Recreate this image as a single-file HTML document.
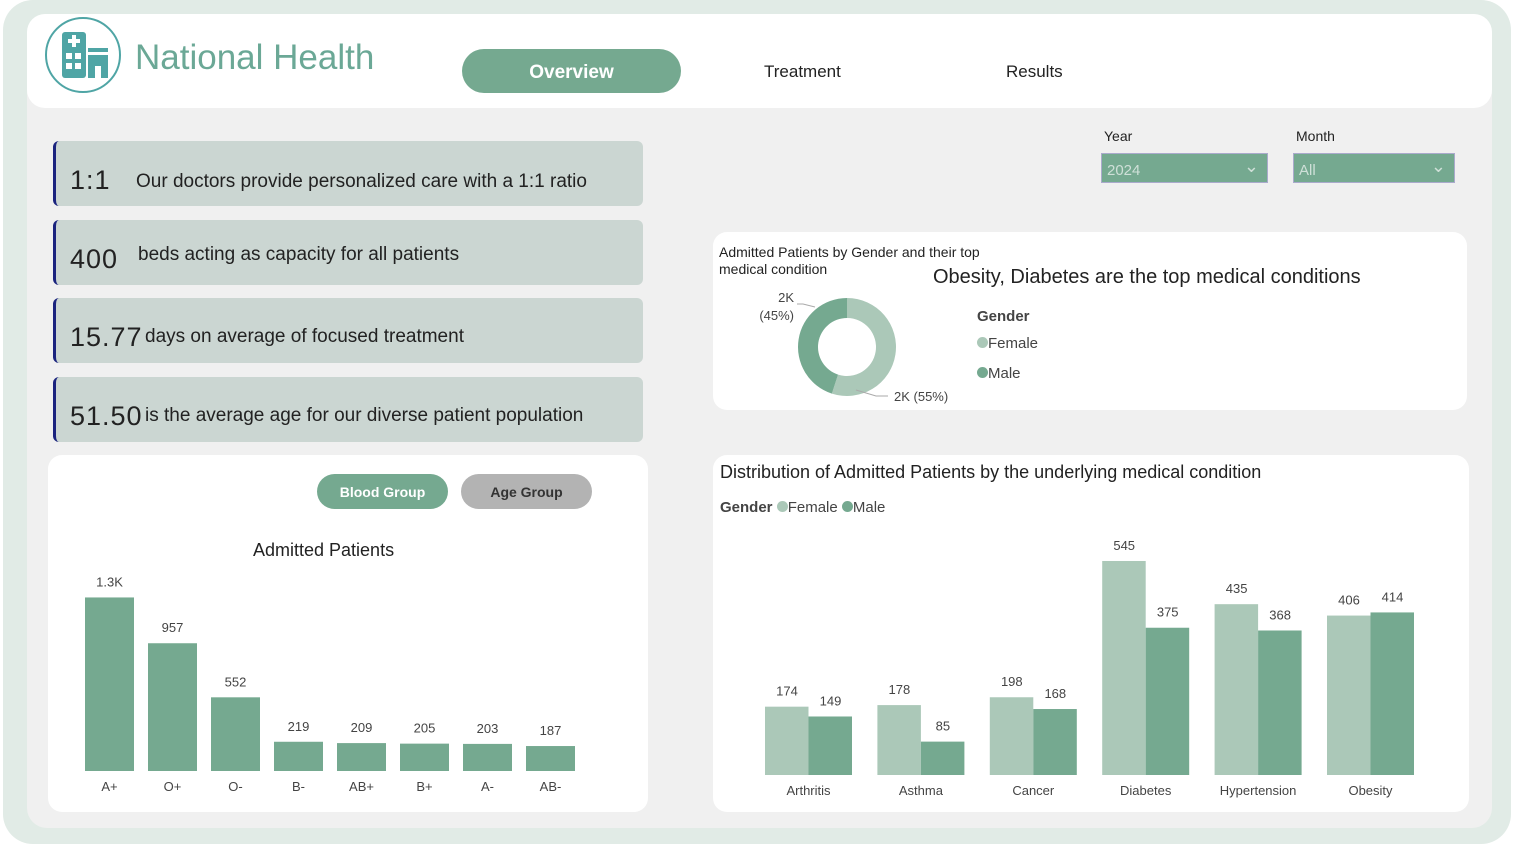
<!DOCTYPE html>
<html><head><meta charset="utf-8">
<style>
*{box-sizing:border-box;margin:0;padding:0}
body{width:1516px;height:844px;background:#fff;font-family:"Liberation Sans",sans-serif;position:relative;overflow:hidden}
.abs{position:absolute}
#outer{left:3px;top:0;width:1508px;height:844px;background:#e1ebe6;border-radius:30px}
#inner{left:27px;top:14px;width:1465px;height:814px;background:#f0f0f0;border-radius:20px}
#header{left:27px;top:14px;width:1465px;height:94px;background:#fff;border-radius:18px}
.card{left:53px;width:590px;height:65px;background:#cbd6d2;border-left:3px solid #1a237e;border-radius:6px;color:#222;font-size:19px}
.card .n{position:absolute;left:14px;font-size:27px;letter-spacing:1px}
.card .t{position:absolute;font-size:19px}
.panel{background:#fff;border-radius:14px}
.nav{font-size:17px;color:#222}
.lbl{font-size:13px;fill:#444;font-family:"Liberation Sans",sans-serif}
</style></head><body>
<div id="outer" class="abs"></div>
<div id="inner" class="abs"></div>
<div id="header" class="abs"></div>
<svg class="abs" style="left:44px;top:16px" width="80" height="80">
<circle cx="39" cy="39" r="37" fill="none" stroke="#4fa5a5" stroke-width="2"/>
<rect x="18" y="16" width="24" height="46" rx="3" fill="#4fa5a5"/>
<rect x="28" y="19" width="4" height="12" fill="#fff"/><rect x="24" y="23" width="12" height="4" fill="#fff"/>
<rect x="22" y="37" width="6" height="6" fill="#fff"/><rect x="31" y="37" width="6" height="6" fill="#fff"/>
<rect x="22" y="47" width="6" height="6" fill="#fff"/><rect x="31" y="47" width="6" height="6" fill="#fff"/>
<rect x="44" y="32" width="20" height="4" fill="#4fa5a5"/>
<path d="M44 39h20v23h-7v-12h-6v12h-7z" fill="#4fa5a5"/>
</svg>
<div class="abs" style="left:135px;top:38px;font-size:35px;color:#6ba896">National Health</div>
<div class="abs" style="left:462px;top:49px;width:219px;height:44px;border-radius:22px;background:#75a990;color:#fff;font-weight:bold;font-size:19px;text-align:center;line-height:48px">Overview</div>
<div class="abs nav" style="left:764px;top:62px">Treatment</div>
<div class="abs nav" style="left:1006px;top:62px">Results</div>

<div class="abs card" style="top:141px"><span class="n" style="top:24px">1:1</span><span class="t" style="left:80px;top:30px">Our doctors provide personalized care with a 1:1 ratio</span></div>
<div class="abs card" style="top:220px"><span class="n" style="top:24px">400</span><span class="t" style="left:82px;top:24px">beds acting as capacity for all patients</span></div>
<div class="abs card" style="top:298px"><span class="n" style="top:24px">15.77</span><span class="t" style="left:89px;top:28px">days on average of focused treatment</span></div>
<div class="abs card" style="top:377px"><span class="n" style="top:24px">51.50</span><span class="t" style="left:89px;top:28px">is the average age for our diverse patient population</span></div>

<div class="abs" style="left:1104px;top:128px;font-size:14px;color:#222">Year</div>
<div class="abs" style="left:1101px;top:153px;width:167px;height:30px;background:#75a990;border:1px solid #aac;color:#cfe0d8;font-size:15px;padding:8px 5px">2024<span style="position:absolute;right:8px;top:2px;font-size:18px">&#8964;</span></div>
<div class="abs" style="left:1296px;top:128px;font-size:14px;color:#222">Month</div>
<div class="abs" style="left:1293px;top:153px;width:162px;height:30px;background:#75a990;border:1px solid #aac;color:#cfe0d8;font-size:15px;padding:8px 5px">All<span style="position:absolute;right:8px;top:2px;font-size:18px">&#8964;</span></div>

<!-- donut panel -->
<div class="abs panel" style="left:713px;top:232px;width:754px;height:178px"></div>
<div class="abs" style="left:719px;top:244px;font-size:14px;color:#222;line-height:17px">Admitted Patients by Gender and their top<br>medical condition</div>
<div class="abs" style="left:933px;top:266px;font-size:20px;color:#222">Obesity, Diabetes are the top medical conditions</div>
<div class="abs" style="left:977px;top:308px;font-size:15px;font-weight:bold;color:#444">Gender</div>
<div class="abs" style="left:977px;top:335px;font-size:15px;color:#444"><span style="display:inline-block;width:11px;height:11px;border-radius:50%;background:#abc8b8"></span>Female</div>
<div class="abs" style="left:977px;top:365px;font-size:15px;color:#444"><span style="display:inline-block;width:11px;height:11px;border-radius:50%;background:#75a990"></span>Male</div>
<svg id="donut" class="abs" style="left:713px;top:232px" width="300" height="178"></svg>

<!-- blood group panel -->
<div class="abs panel" style="left:48px;top:455px;width:600px;height:357px"></div>
<div class="abs" style="left:317px;top:474px;width:131px;height:35px;border-radius:18px;background:#75a990;color:#fff;font-weight:bold;font-size:14px;text-align:center;line-height:37px">Blood Group</div>
<div class="abs" style="left:461px;top:474px;width:131px;height:35px;border-radius:18px;background:#b3b3b3;color:#333;font-weight:bold;font-size:14px;text-align:center;line-height:37px">Age Group</div>
<div class="abs" style="left:253px;top:540px;font-size:18px;color:#222">Admitted Patients</div>
<svg id="bchart" class="abs" style="left:48px;top:455px" width="600" height="357"></svg>

<!-- condition panel -->
<div class="abs panel" style="left:713px;top:455px;width:756px;height:357px"></div>
<div class="abs" style="left:720px;top:462px;font-size:18px;color:#222">Distribution of Admitted Patients by the underlying medical condition</div>
<div class="abs" style="left:720px;top:499px;font-size:15px;color:#444"><b>Gender</b> <span style="display:inline-block;width:11px;height:11px;border-radius:50%;background:#abc8b8"></span>Female <span style="display:inline-block;width:11px;height:11px;border-radius:50%;background:#75a990"></span>Male</div>
<svg id="cchart" class="abs" style="left:713px;top:455px" width="756" height="357"></svg>

<script>
const NS='http://www.w3.org/2000/svg';
function mk(p,t,a){const e=document.createElementNS(NS,t);for(const k in a)e.setAttribute(k,a[k]);p.appendChild(e);return e;}
const FEM='#abc8b8',MAL='#75a990';

// donut
const genders=['Female','Male'];
const genderShare=[55,45];
const genderLabels=['2K (55%)','2K\n(45%)'];
(function(){
 const s=document.getElementById('donut');const cx=134,cy=115,R=49,r=29;
 let a0=0;const tot=genderShare.reduce((a,b)=>a+b,0);
 genderShare.forEach((v,i)=>{
  const a1=a0+v/tot*2*Math.PI;
  const p=(a,rad)=>[cx+rad*Math.sin(a),cy-rad*Math.cos(a)];
  const [x1,y1]=p(a0,R),[x2,y2]=p(a1,R),[x3,y3]=p(a1,r),[x4,y4]=p(a0,r);const lg=a1-a0>Math.PI?1:0;
  const e=mk(s,'path',{d:`M${x1} ${y1}A${R} ${R} 0 ${lg} 1 ${x2} ${y2}L${x3} ${y3}A${r} ${r} 0 ${lg} 0 ${x4} ${y4}Z`,fill:i==0?FEM:MAL});
  
  
  a0=a1;
 });
 mk(s,'path',{d:'M143 158 l20 6 h12',stroke:'#aaa',fill:'none'});
 mk(s,'path',{d:'M102 75 l-12 -3 h-6',stroke:'#aaa',fill:'none'});
 const t1=mk(s,'text',{x:181,y:169,class:'lbl'});t1.textContent=genderLabels[0];
 const t2=mk(s,'text',{x:81,y:70,class:'lbl','text-anchor':'end'});t2.textContent='2K';
 const t3=mk(s,'text',{x:81,y:88,class:'lbl','text-anchor':'end'});t3.textContent='(45%)';
})();

// blood group
const bloodGroups=['A+','O+','O-','B-','AB+','B+','A-','AB-'];
const bloodValues=[1300,957,552,219,209,205,203,187];
const bloodLabels=['1.3K','957','552','219','209','205','203','187'];
(function(){
 const s=document.getElementById('bchart');const base=316,k=0.1335;
 const x=i=>37+i*63;
 bloodValues.forEach((v,i)=>{
  const h=v*k;
  const b=mk(s,'rect',{x:x(i),y:base-h,width:49,height:h,fill:MAL});
  
  
  const t=mk(s,'text',{x:x(i)+24.5,y:base-h-11,class:'lbl','text-anchor':'middle'});t.textContent=bloodLabels[i];
  const c=mk(s,'text',{x:x(i)+24.5,y:336,class:'lbl','text-anchor':'middle'});c.textContent=bloodGroups[i];
 });
})();

// conditions
const conditions=['Arthritis','Asthma','Cancer','Diabetes','Hypertension','Obesity'];
const femaleValues=[174,178,198,545,435,406];
const maleValues=[149,85,168,375,368,414];
(function(){
 const s=document.getElementById('cchart');const base=320,k=0.3927;
 const x=i=>52+i*112.4;
 conditions.forEach((c,i)=>{
  [[femaleValues[i],FEM,0,'female'],[maleValues[i],MAL,43.5,'male']].forEach(([v,col,off,g])=>{
   const h=v*k;
   const b=mk(s,'rect',{x:x(i)+off,y:base-h,width:43.5,height:h,fill:col});
   
   
   const t=mk(s,'text',{x:x(i)+off+22,y:base-h-11,class:'lbl','text-anchor':'middle'});t.textContent=v;
  });
  const l=mk(s,'text',{x:x(i)+43.5,y:340,class:'lbl','text-anchor':'middle'});l.textContent=c;
 });
})();
</script>
</body></html>
